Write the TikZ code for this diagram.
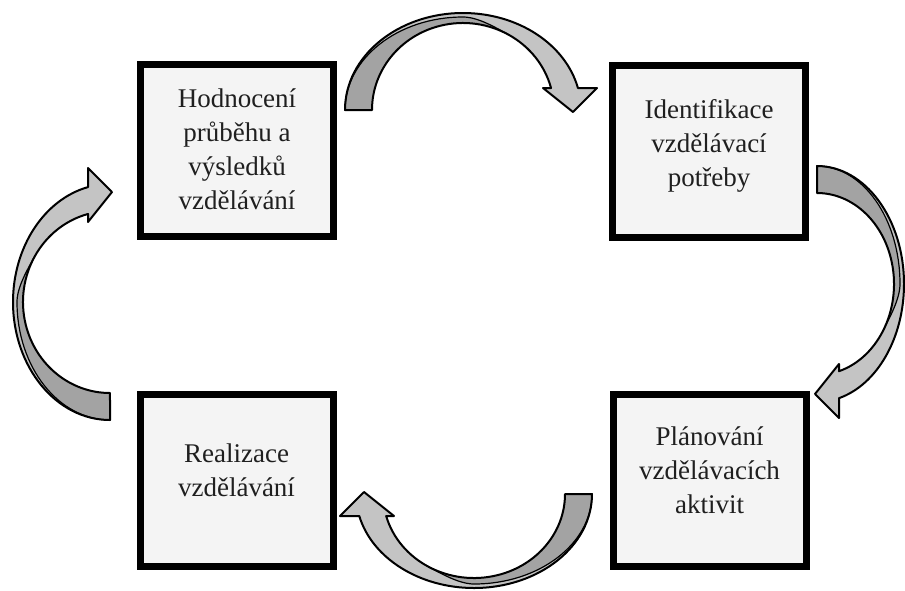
\documentclass[tikz,border=0pt]{standalone}
\usepackage{fontspec}
\setmainfont{Liberation Serif}
\definecolor{boxfill}{HTML}{F4F4F4}
\definecolor{arrlight}{HTML}{C4C4C4}
\definecolor{arrdark}{HTML}{A3A3A3}
\newcommand{\bandarrow}[4]{%
\begin{scope}[shift={#1}, x={#2}, y={#3}]
\pgfmathsetmacro{\bo}{#4}
\pgfmathsetmacro{\bi}{#4-10}
\pgfmathsetmacro{\bd}{#4-4}
\pgfmathsetmacro{\ao}{asin(22/\bo)}
\pgfmathsetmacro{\ai}{asin(22/\bi)}
\pgfmathsetmacro{\ui}{91*cos(\ai)}
\pgfmathsetmacro{\cy}{0.946*\bi}
\pgfmathsetmacro{\ey}{0.866*\bi}
\path[fill=arrlight] (-118,0) arc[start angle=180,end angle=\ao,x radius=118,y radius=\bo]
  -- (134,22) -- (110,-2) -- (80,22) -- (\ui,22)
  arc[start angle=\ai,end angle=180,x radius=91,y radius=\bi] -- cycle;
\path[fill=arrdark] (-118,0) arc[start angle=180,end angle=90,x radius=118,y radius=\bd]
  .. controls (15,\bd) and (32.9,\cy) .. (45.5,\ey)
  arc[start angle=60,end angle=180,x radius=91,y radius=\bi] -- cycle;
\draw[line width=1.2pt] (-118,0) arc[start angle=180,end angle=90,x radius=118,y radius=\bd]
  .. controls (15,\bd) and (32.9,\cy) .. (45.5,\ey);
\draw[line width=2pt, line join=round] (-118,0) arc[start angle=180,end angle=\ao,x radius=118,y radius=\bo]
  -- (134,22) -- (110,-2) -- (80,22) -- (\ui,22)
  arc[start angle=\ai,end angle=180,x radius=91,y radius=\bi] -- cycle;
\end{scope}}
\tikzset{
  boxstyle/.style={draw=black, fill=boxfill, line width=7pt, minimum width=193pt, minimum height=172pt, inner sep=0pt},
  txt/.style={font=\fontsize{27}{34}\selectfont, align=center, inner sep=0pt, text=black!88}
}
\begin{document}
\begin{tikzpicture}[x=1pt, y=-1pt]
\useasboundingbox (0,0) rectangle (905,590);
\fill[white] (0,0) rectangle (905,590);
% boxes
\node[boxstyle] (b1) at (237,150) {};
\node[boxstyle] (b2) at (709,151.5) {};
\node[boxstyle] (b3) at (709.5,480.5) {};
\node[boxstyle] (b4) at (236.5,480.5) {};
% texts
\node[txt] (t1) at (237,149) {Hodnocení\\průběhu a\\výsledků\\vzdělávání};
\node[txt] (t2) at (709,146) {Identifikace\\vzdělávací\\potřeby};
\node[txt] (t3) at (709.5,470) {Plánování\\vzdělávacích\\aktivit};
\node[txt] (t4) at (236.5,470) {Realizace\\vzdělávání};
% curved arrows
\bandarrow{(463,110)}{(1pt,0pt)}{(0pt,1pt)}{97}
\bandarrow{(817,284)}{(0pt,-1pt)}{(1pt,0pt)}{87}
\bandarrow{(474,494)}{(-1pt,0pt)}{(0pt,-1pt)}{94}
\bandarrow{(110,302)}{(0pt,1pt)}{(-1pt,0pt)}{97}
\end{tikzpicture}
\end{document}
